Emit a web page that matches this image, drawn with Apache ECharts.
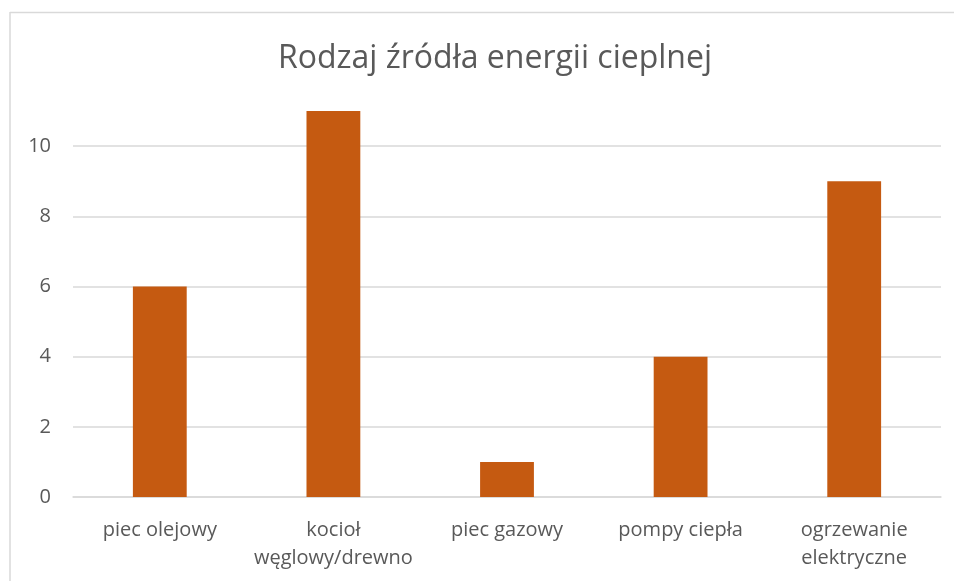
<!DOCTYPE html>
<html><head><meta charset="utf-8">
<script src="https://cdn.jsdelivr.net/npm/echarts@6/dist/echarts.min.js"></script>
<style>html,body{margin:0;padding:0;background:#fff}#c{width:954px;height:581px}</style>
</head><body><div id="c"></div>
<script>
const title = "Rodzaj źródła energii cieplnej";
const categories = ["piec olejowy", "kocioł\nwęglowy/drewno", "piec gazowy", "pompy ciepła", "ogrzewanie\nelektryczne"];
const values = [6, 11, 1, 4, 9];
const yTicks = {min: 0, max: 11, interval: 2};

const chart = echarts.init(document.getElementById('c'), null, {renderer: 'canvas'});
const font = '"Open Sans", "Noto Sans", sans-serif';
chart.setOption({
  animation: false,
  backgroundColor: '#fff',
  title: {
    text: title, left: 490, top: 38, textAlign: 'center',
    textStyle: {fontFamily: font, fontWeight: 'normal', fontSize: 32, color: '#595959'}
  },
  graphic: [
    {type: 'line', shape: {x1: 10, y1: 12.5, x2: 954, y2: 12.5}, style: {stroke: '#d9d9d9', lineWidth: 1.5}},
    {type: 'line', shape: {x1: 10, y1: 12, x2: 10, y2: 581}, style: {stroke: '#d9d9d9', lineWidth: 1.5}}
  ],
  grid: {left: 73, right: 13, top: 111, bottom: 84, containLabel: false},
  xAxis: {
    type: 'category', data: categories,
    axisLine: {lineStyle: {color: '#d9d9d9', width: 1.5}},
    axisTick: {show: false},
    axisLabel: {color: '#595959', fontFamily: font, fontSize: 20, margin: 19, lineHeight: 28, interval: 0}
  },
  yAxis: {
    type: 'value', min: yTicks.min, max: yTicks.max, interval: yTicks.interval,
    axisLine: {show: false}, axisTick: {show: false},
    axisLabel: {color: '#595959', fontFamily: font, fontSize: 20, margin: 22, showMaxLabel: false},
    splitLine: {lineStyle: {color: '#d9d9d9', width: 1.5}, showMaxLine: false}
  },
  series: [{
    type: 'bar', data: values, barWidth: '31%',
    itemStyle: {color: '#C55A11'}
  }]
});
</script></body></html>
